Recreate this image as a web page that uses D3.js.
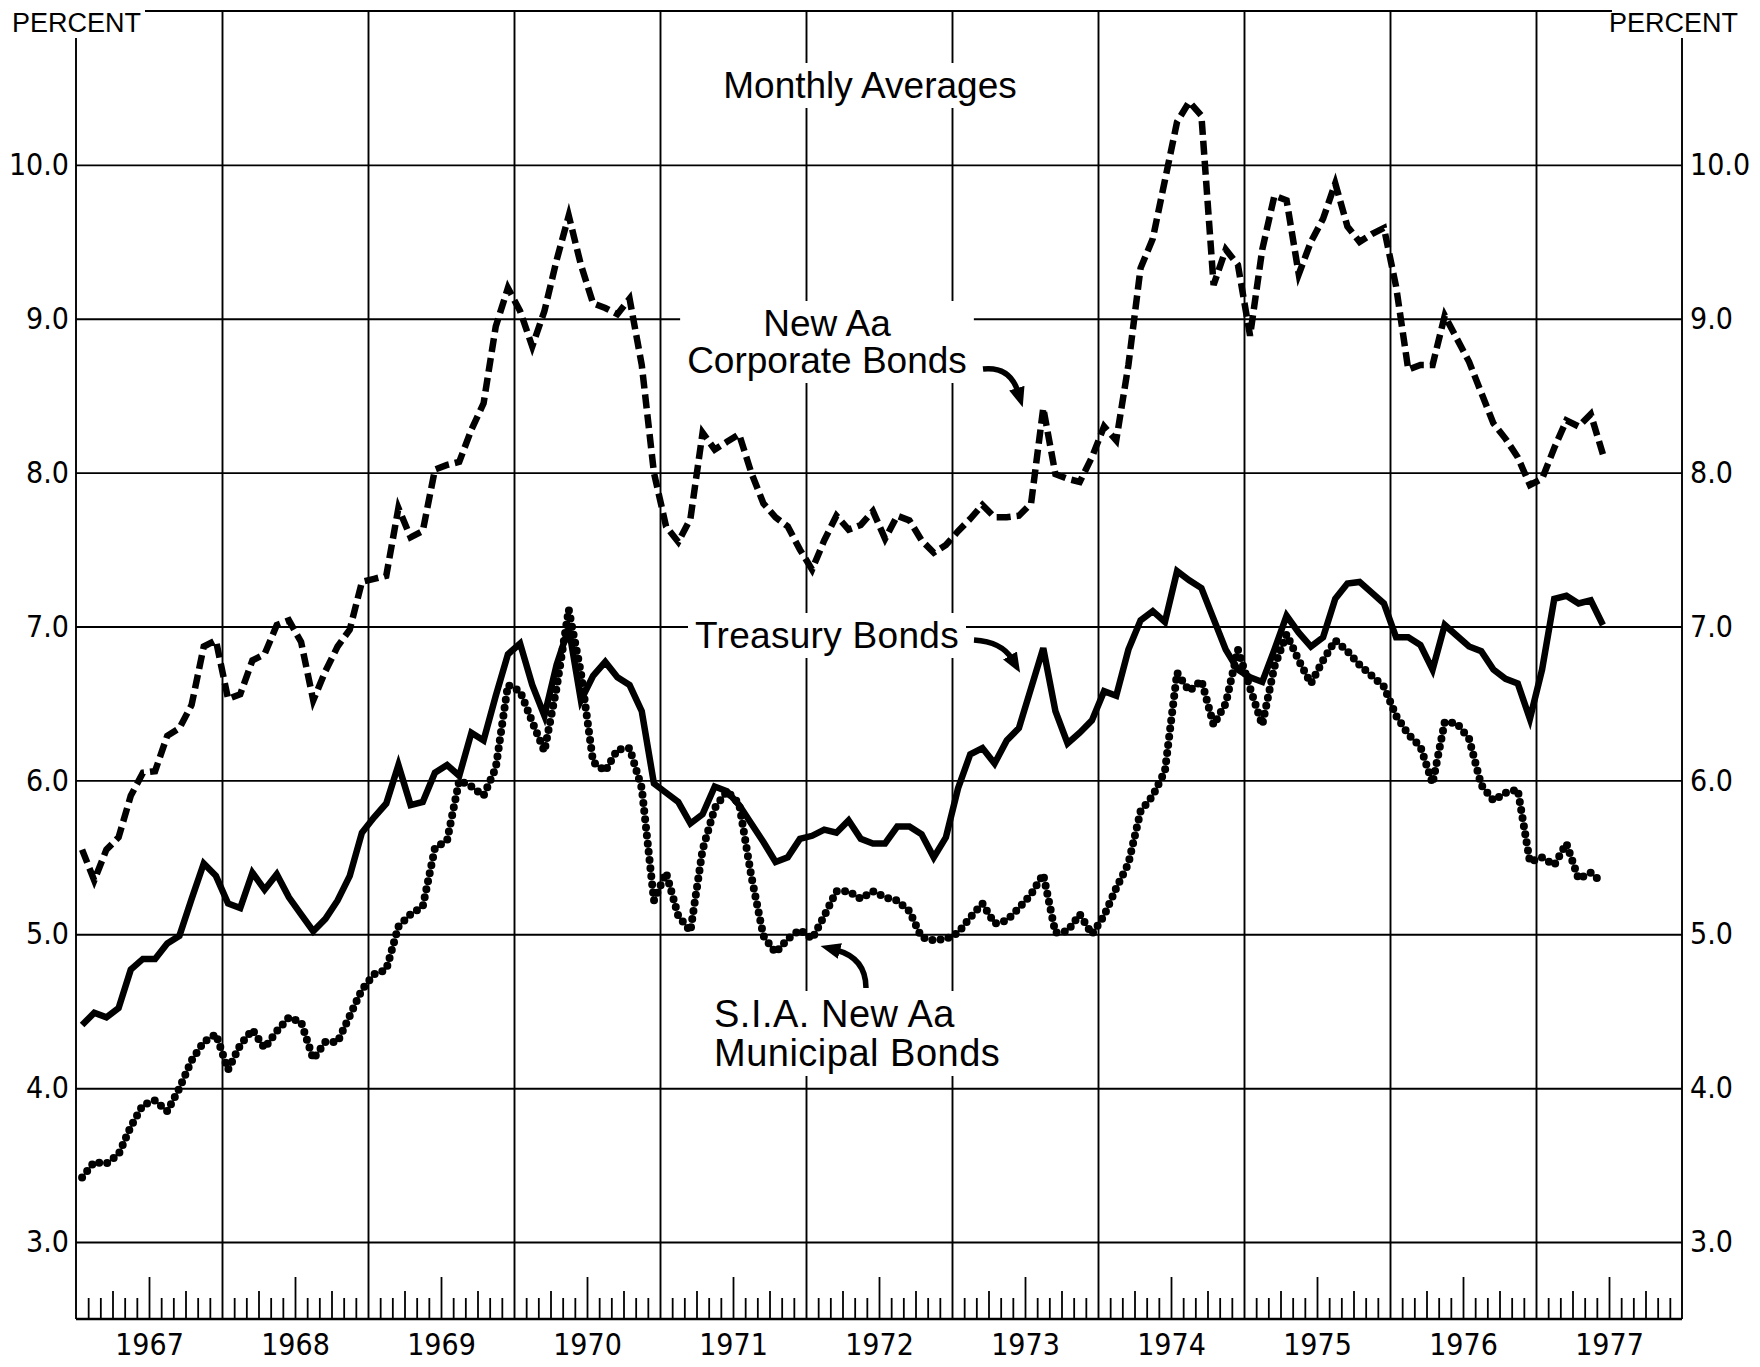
<!DOCTYPE html>
<html>
<head>
<meta charset="utf-8">
<script src="https://cdn.jsdelivr.net/npm/d3@7"></script>
<style>
  html, body { margin: 0; padding: 0; background: #fff; }
  svg text { font-family: "Liberation Sans", Arial, sans-serif; fill: #000; }
  .ylab text, .years text { font-family: "DejaVu Sans Condensed", "Liberation Sans", sans-serif; font-size: 30px; }
</style>
</head>
<body>
<div id="chart"></div>
<script>
// monthly averages, Jan 1967 .. Jun 1977 (percent)
const startYear = 1967;
const endYear = 1978;
const yearLabels = ["1967", "1968", "1969", "1970", "1971", "1972", "1973", "1974", "1975", "1976", "1977"];
const yTicks = [3, 4, 5, 6, 7, 8, 9, 10];

const corporate = [
  5.55, 5.35, 5.55, 5.63, 5.90, 6.05, 6.06, 6.29, 6.34, 6.49, 6.87, 6.91,
  6.53, 6.56, 6.78, 6.82, 7.01, 7.04, 6.90, 6.52, 6.71, 6.87, 6.98, 7.29,
  7.31, 7.33, 7.77, 7.58, 7.62, 8.02, 8.05, 8.07, 8.28, 8.45, 8.95, 9.20,
  9.05, 8.82, 9.05, 9.38, 9.67, 9.35, 9.10, 9.07, 9.03, 9.13, 8.70, 8.00,
  7.65, 7.55, 7.70, 8.26, 8.15, 8.20, 8.25, 8.00, 7.80, 7.71, 7.65, 7.50,
  7.37, 7.56, 7.72, 7.63, 7.66, 7.75, 7.57, 7.72, 7.69, 7.56, 7.48, 7.53,
  7.62, 7.70, 7.79, 7.71, 7.71, 7.72, 7.80, 8.42, 7.99, 7.96, 7.94, 8.10,
  8.30, 8.21, 8.70, 9.33, 9.52, 9.90, 10.28, 10.41, 10.32, 9.22, 9.45, 9.35,
  8.89, 9.45, 9.80, 9.77, 9.29, 9.50, 9.65, 9.88, 9.60, 9.50, 9.55, 9.59,
  9.21, 8.67, 8.70, 8.70, 9.02, 8.87, 8.72, 8.52, 8.32, 8.22, 8.10, 7.92,
  7.96, 8.16, 8.34, 8.30, 8.38, 8.12
];

const treasury = [
  4.41, 4.49, 4.46, 4.52, 4.77, 4.84, 4.84, 4.94, 4.99, 5.23, 5.46, 5.38,
  5.20, 5.17, 5.40, 5.29, 5.39, 5.24, 5.13, 5.02, 5.10, 5.22, 5.38, 5.66,
  5.76, 5.85, 6.10, 5.84, 5.86, 6.05, 6.10, 6.03, 6.31, 6.26, 6.55, 6.82,
  6.89, 6.62, 6.42, 6.75, 6.99, 6.52, 6.68, 6.77, 6.67, 6.62, 6.45, 5.98,
  5.92, 5.86, 5.72, 5.78, 5.96, 5.93, 5.84, 5.72, 5.60, 5.47, 5.50, 5.62,
  5.64, 5.68, 5.66, 5.74, 5.62, 5.59, 5.59, 5.70, 5.70, 5.65, 5.50, 5.63,
  5.95, 6.17, 6.21, 6.11, 6.26, 6.34, 6.60, 6.86, 6.45, 6.24, 6.31, 6.39,
  6.58, 6.55, 6.85, 7.04, 7.10, 7.03, 7.36, 7.30, 7.25, 7.05, 6.85, 6.72,
  6.67, 6.64, 6.85, 7.07, 6.96, 6.87, 6.93, 7.18, 7.28, 7.29, 7.22, 7.15,
  6.93, 6.93, 6.88, 6.72, 7.01, 6.94, 6.87, 6.84, 6.72, 6.66, 6.63, 6.40,
  6.72, 7.18, 7.20, 7.15, 7.17, 7.01
];

const municipal = [
  3.42, 3.52, 3.51, 3.57, 3.75, 3.89, 3.92, 3.85, 4.00, 4.18, 4.30, 4.35,
  4.12, 4.28, 4.38, 4.26, 4.37, 4.46, 4.43, 4.19, 4.30, 4.30, 4.47, 4.64,
  4.74, 4.77, 5.05, 5.13, 5.18, 5.56, 5.61, 6.00, 5.96, 5.90, 6.08, 6.62,
  6.58, 6.38, 6.19, 6.60, 7.11, 6.70, 6.12, 6.06, 6.20, 6.21, 5.95, 5.22,
  5.40, 5.12, 5.02, 5.55, 5.82, 5.93, 5.85, 5.38, 4.99, 4.88, 4.97, 5.03,
  4.97, 5.12, 5.28, 5.28, 5.23, 5.28, 5.24, 5.22, 5.15, 4.98, 4.96, 4.97,
  5.01, 5.11, 5.20, 5.07, 5.09, 5.17, 5.26, 5.39, 5.01, 5.02, 5.13, 5.00,
  5.12, 5.30, 5.46, 5.80, 5.90, 6.06, 6.70, 6.58, 6.65, 6.36, 6.50, 6.85,
  6.60, 6.36, 6.74, 6.95, 6.78, 6.63, 6.78, 6.91, 6.84, 6.75, 6.68, 6.61,
  6.42, 6.30, 6.22, 5.98, 6.38, 6.37, 6.27, 5.97, 5.87, 5.92, 5.94, 5.47,
  5.50, 5.45, 5.59, 5.36, 5.40, 5.33
];

const W = 1760, H = 1367;
const plotL = 76, plotR = 1682, plotT = 11, plotB = 1319;

const svg = d3.select("#chart").append("svg")
  .attr("width", W)
  .attr("height", H)
  .style("display", "block")
  .style("background", "#fff");

const x = d3.scaleLinear().domain([startYear, endYear]).range([plotL, plotR]);
const y = d3.scaleLinear().domain([2.5, 11]).range([plotB, plotT]);

// month -> fractional year, plotted mid-month
const monthPos = i => startYear + (i + 0.5) / 12;

// ---- grid ----
// horizontal gridlines
svg.append("g")
  .attr("transform", "translate(" + plotL + ",0)")
  .call(d3.axisLeft(y).tickValues(yTicks).tickSize(-(plotR - plotL)).tickFormat(""))
  .call(g => g.select(".domain").remove())
  .selectAll("line").attr("stroke", "#000").attr("stroke-width", 1.9);

// vertical gridlines at each January
const janYears = d3.range(startYear + 1, endYear);
svg.append("g")
  .attr("transform", "translate(0," + plotB + ")")
  .call(d3.axisBottom(x).tickValues(janYears).tickSize(-(plotB - plotT)).tickFormat(""))
  .call(g => g.select(".domain").remove())
  .selectAll("line").attr("stroke", "#000").attr("stroke-width", 1.9);

// frame: top line (broken for the PERCENT labels), side axes, bottom
const frame = svg.append("g").attr("stroke", "#000").attr("stroke-width", 1.9);
frame.append("line").attr("x1", 145).attr("x2", 1612).attr("y1", y(11)).attr("y2", y(11));
frame.append("line").attr("x1", plotL).attr("x2", plotL).attr("y1", 38).attr("y2", plotB);
frame.append("line").attr("x1", plotR).attr("x2", plotR).attr("y1", 38).attr("y2", plotB);
frame.append("line").attr("x1", plotL).attr("x2", plotR).attr("y1", plotB).attr("y2", plotB).attr("stroke-width", 2.4);

// month ticks rising from the bottom axis
const months = d3.range(0, (endYear - startYear) * 12).filter(m => m % 12 !== 0).map(m => startYear + m / 12);
svg.append("g")
  .attr("transform", "translate(0," + plotB + ")")
  .call(d3.axisTop(x).tickValues(months).tickSize(20).tickFormat(""))
  .call(g => g.select(".domain").remove())
  .selectAll(".tick line")
  .attr("stroke", "#000")
  .attr("stroke-width", 1.8)
  .attr("y2", d => {
    const m = Math.round((d - Math.floor(d + 1e-6)) * 12);
    if (m === 6) return -42;
    if (m === 3 || m === 9) return -28;
    return -21;
  });

// y labels both sides
svg.append("g")
  .attr("class", "ylab")
  .attr("transform", "translate(" + plotL + ",0)")
  .call(d3.axisLeft(y).tickValues(yTicks).tickSize(0).tickPadding(7).tickFormat(d3.format(".1f")))
  .call(g => g.select(".domain").remove())
  .attr("font-family", null).attr("font-size", null);

svg.append("g")
  .attr("class", "ylab")
  .attr("transform", "translate(" + plotR + ",0)")
  .call(d3.axisRight(y).tickValues(yTicks).tickSize(0).tickPadding(8).tickFormat(d3.format(".1f")))
  .call(g => g.select(".domain").remove())
  .attr("font-family", null).attr("font-size", null);

// year labels centred in each year
svg.append("g")
  .attr("class", "years")
  .attr("transform", "translate(0," + plotB + ")")
  .call(d3.axisBottom(x).tickValues(yearLabels.map(s => +s + 0.5)).tickSize(0).tickPadding(15)
    .tickFormat((d, i) => yearLabels[i]))
  .call(g => g.select(".domain").remove())
  .attr("font-family", null).attr("font-size", null);

svg.append("text").attr("x", 12).attr("y", 32).attr("font-size", 27).text("PERCENT");
svg.append("text").attr("x", 1738).attr("y", 32).attr("font-size", 27).attr("text-anchor", "end").text("PERCENT");

// ---- series ----
const line = d3.line()
  .x((d, i) => x(monthPos(i)))
  .y(d => y(d));

svg.append("path")
  .datum(corporate)
  .attr("d", line)
  .attr("fill", "none")
  .attr("stroke", "#000")
  .attr("stroke-width", 6.5)
  .attr("stroke-dasharray", "14,6")
  .attr("stroke-linejoin", "miter");

svg.append("path")
  .datum(treasury)
  .attr("d", line)
  .attr("fill", "none")
  .attr("stroke", "#000")
  .attr("stroke-width", 6.5)
  .attr("stroke-linejoin", "miter");

svg.append("path")
  .datum(municipal)
  .attr("d", line)
  .attr("fill", "none")
  .attr("stroke", "#000")
  .attr("stroke-width", 8)
  .attr("stroke-linecap", "round")
  .attr("stroke-dasharray", "0,8.2");

// ---- annotations ----
function label(lines, xPos, yPos, anchor, lineH, size, spacing) {
  const g = svg.append("g");
  const bg = g.append("rect").attr("fill", "#fff");
  const t = g.append("text")
    .attr("font-size", size)
    .attr("letter-spacing", spacing)
    .attr("text-anchor", anchor);
  lines.forEach((s, i) => {
    t.append("tspan").attr("x", xPos).attr("y", yPos + i * lineH).text(s);
  });
  const b = t.node().getBBox();
  bg.attr("x", b.x - 7).attr("y", b.y - 2).attr("width", b.width + 14).attr("height", b.height + 4);
}

label(["Monthly Averages"], 870, 98, "middle", 0, 37, 0);
label(["New Aa", "Corporate Bonds"], 827, 336, "middle", 37, 37, 0);
label(["Treasury Bonds"], 827, 648, "middle", 0, 37, 0.3);
label(["S.I.A. New Aa", "Municipal Bonds"], 714, 1027, "start", 39, 38, 0.5);

const defs = svg.append("defs");
defs.append("marker")
  .attr("id", "head")
  .attr("markerUnits", "userSpaceOnUse")
  .attr("viewBox", "0 0 20 20")
  .attr("refX", 4).attr("refY", 10)
  .attr("markerWidth", 20).attr("markerHeight", 20)
  .attr("orient", "auto")
  .append("path")
  .attr("d", "M0,2 L20,10 L0,18 Z")
  .attr("fill", "#000");

const arrows = [
  "M983,369 Q1010,366 1018,392",
  "M974,640 Q1002,642 1012,659",
  "M866,988 Q866,958 836,950"
];
svg.append("g").selectAll("path")
  .data(arrows)
  .join("path")
  .attr("d", d => d)
  .attr("fill", "none")
  .attr("stroke", "#000")
  .attr("stroke-width", 5.5)
  .attr("marker-end", "url(#head)");
</script>
</body>
</html>
